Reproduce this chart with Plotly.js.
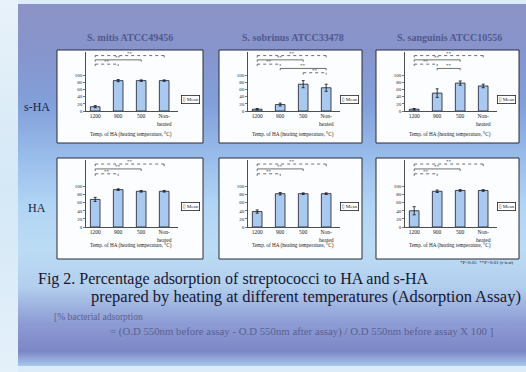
<!DOCTYPE html>
<html>
<head>
<meta charset="utf-8">
<script src="https://cdn.plot.ly/plotly-3.0.1.min.js"></script>
<style>
html,body{margin:0;padding:0;width:526px;height:372px;overflow:hidden;background:#dcecf8;}
#bg{position:absolute;left:18px;top:4px;width:508px;height:362px;
background:linear-gradient(to bottom,#8c93c6 0%,#8794cb 12%,#82a0da 28%,#98bcea 42%,#b0d4f4 55%,#bcdcf4 68%,#b2cfee 78%,#8e9cd4 88%,#7c86c6 96%,#a8c8ec 100%);}
#strip{position:absolute;left:0;top:0;width:18px;height:372px;background:linear-gradient(to bottom,#e8f2fa,#d4e8f6 50%,#e4f0fa);}
#plot{position:absolute;left:0;top:0;width:526px;height:372px;}
</style>
</head>
<body>
<div id="strip"></div>
<div id="bg"></div>
<div id="plot"></div>
<script>
// ---- data ----
const categories = ['1200', '900', '500', 'Non-<br>heated'];
const strains = ['S. mitis ATCC49456', 'S. sobrinus ATCC33478', 'S. sanguinis ATCC10556'];
const rowLabels = ['s-HA', 'HA'];

const sHA_mitis = [12, 85, 85, 85];
const sHA_mitis_err = [3, 3, 2, 2];
const sHA_sobrinus = [5, 18, 75, 65];
const sHA_sobrinus_err = [2, 4, 10, 10];
const sHA_sanguinis = [5, 50, 78, 70];
const sHA_sanguinis_err = [2, 12, 6, 5];

const HA_mitis = [68, 92, 88, 88];
const HA_mitis_err = [5, 2, 2, 2];
const HA_sobrinus = [38, 82, 82, 82];
const HA_sobrinus_err = [4, 3, 2, 2];
const HA_sanguinis = [40, 88, 90, 90];
const HA_sanguinis_err = [10, 3, 2, 2];

const sig_sHA_mitis = [[0, 3, '**'], [0, 2, '**'], [0, 1, '**']];
const sig_sHA_sobrinus = [[0, 3, '**'], [0, 2, '**'], [0, 1, '**'], [1, 3, '**'], [2, 3, '**']];
const sig_sHA_sanguinis = [[0, 3, '**'], [0, 2, '**'], [0, 1, '**'], [1, 2, '**']];
const sig_HA_mitis = [[0, 3, '**'], [0, 2, '**'], [0, 1, '**']];
const sig_HA_sobrinus = [[0, 3, '**'], [0, 2, '**'], [0, 1, '**']];
const sig_HA_sanguinis = [[0, 3, '**'], [0, 2, '**'], [0, 1, '**']];

const yTicks = [0, 20, 40, 60, 80, 100];
const panelCaption = 'Temp. of HA (heating temperature, \u00b0C)';
const legendText = '\u25af Mean';
const footnote = '*P<0.05  **P<0.01 (t-test)';
const figTitle1 = 'Fig 2. Percentage adsorption of streptococci to HA and s-HA';
const figTitle2 = 'prepared by heating at different temperatures (Adsorption Assay)';
const formula1 = '[% bacterial adsorption';
const formula2 = '= (O.D 550nm before assay - O.D 550nm after assay) / O.D 550nm before assay X 100 ]';

const panels = [
  [sHA_mitis, sHA_mitis_err, sig_sHA_mitis],
  [sHA_sobrinus, sHA_sobrinus_err, sig_sHA_sobrinus],
  [sHA_sanguinis, sHA_sanguinis_err, sig_sHA_sanguinis],
  [HA_mitis, HA_mitis_err, sig_HA_mitis],
  [HA_sobrinus, HA_sobrinus_err, sig_HA_sobrinus],
  [HA_sanguinis, HA_sanguinis_err, sig_HA_sanguinis]
];

// ---- layout geometry (px) ----
const W = 526, H = 372;
const fx = p => p / W, fy = p => 1 - p / H;
const colBoxes = [[57, 203], [219, 362], [376, 519]];
const rowBoxes = [[50, 143], [158, 259]];
const rowPlot = [[52, 111], [160, 227]];
const serif = 'Liberation Serif, DejaVu Serif, serif';

const traces = [], shapes = [], annotations = [];
const layout = {
  width: W, height: H, margin: {l: 0, r: 0, t: 0, b: 0},
  paper_bgcolor: 'rgba(0,0,0,0)', plot_bgcolor: 'rgba(0,0,0,0)',
  showlegend: false, font: {family: serif, color: '#111'}
};

panels.forEach((p, i) => {
  const r = Math.floor(i / 3), c = i % 3;
  const n = i + 1, xs = n === 1 ? '' : n;
  const box = colBoxes[c], rb = rowBoxes[r], rp = rowPlot[r];
  shapes.push({type: 'rect', xref: 'paper', yref: 'paper', layer: 'below',
    x0: fx(box[0]), x1: fx(box[1]), y0: fy(rb[1]), y1: fy(rb[0]),
    fillcolor: '#fbfdff', line: {color: '#2a2a3a', width: 1}});
  const xd = [fx(box[0] + 29), fx(box[0] + 29 + 92)];
  layout['xaxis' + xs] = {domain: xd, anchor: 'y' + xs, type: 'category', range: [-0.4, 3.6],
    showline: true, linecolor: '#222', linewidth: 0.8, ticks: '', showgrid: false,
    tickfont: {size: 5.5, family: serif, color: '#222'}, fixedrange: true};
  layout['yaxis' + xs] = {domain: [fy(rp[1]), fy(rp[0])], anchor: 'x' + xs, range: [0, 165],
    tickvals: yTicks, showline: true, linecolor: '#222', linewidth: 0.8, ticks: 'outside',
    ticklen: 2, tickwidth: 0.6, tickcolor: '#222', showgrid: false, zeroline: false,
    tickfont: {size: 5, family: serif, color: '#222'}, fixedrange: true};
  traces.push({type: 'bar', x: categories, y: p[0], xaxis: 'x' + xs, yaxis: 'y' + xs,
    width: 0.42, marker: {color: '#a9caee', line: {color: '#1a1a2a', width: 0.8}},
    error_y: {type: 'data', array: p[1], visible: true, color: '#111', thickness: 0.8, width: 1.5},
    hoverinfo: 'skip'});
  p[2].forEach((s, k) => {
    const lvl = 155 - k * 12;
    const dash = k % 2 === 0 ? 'dot' : 'solid';
    const ln = {color: '#333', width: 0.7, dash: dash};
    shapes.push({type: 'line', xref: 'x' + xs, yref: 'y' + xs, x0: s[0], x1: s[1], y0: lvl, y1: lvl, line: ln});
    shapes.push({type: 'line', xref: 'x' + xs, yref: 'y' + xs, x0: s[0], x1: s[0], y0: lvl, y1: lvl - 5, line: ln});
    shapes.push({type: 'line', xref: 'x' + xs, yref: 'y' + xs, x0: s[1], x1: s[1], y0: lvl, y1: lvl - 5, line: ln});
    annotations.push({xref: 'x' + xs, yref: 'y' + xs, x: (s[0] + s[1]) / 2, y: lvl, text: s[2],
      showarrow: false, xanchor: 'center', yanchor: 'bottom', yshift: -2, font: {size: 5, color: '#222'}});
  });
  annotations.push({xref: 'paper', yref: 'paper', x: fx(box[1] - 3), y: fy(r === 0 ? 95 : 207),
    xanchor: 'right', text: legendText, showarrow: false, bordercolor: '#222', borderwidth: 0.8,
    borderpad: 1, bgcolor: '#fff', font: {size: 5, color: '#222', family: serif}});
  annotations.push({xref: 'paper', yref: 'paper', x: fx(box[0] + 74), y: fy(r === 0 ? 134 : 245),
    xanchor: 'center', text: panelCaption, showarrow: false, font: {size: 5.2, color: '#222', family: serif}});
});

const colCenters = [130, 293, 449];
strains.forEach((s, c) => annotations.push({xref: 'paper', yref: 'paper', x: fx(colCenters[c]), y: fy(30),
  xanchor: 'center', text: '<b>' + s + '</b>', showarrow: false, font: {size: 10, color: '#525a8c', family: serif}}));
annotations.push({xref: 'paper', yref: 'paper', x: fx(37), y: fy(98), xanchor: 'center', text: rowLabels[0], showarrow: false,
  font: {size: 12, color: '#1c2040', family: serif}});
annotations.push({xref: 'paper', yref: 'paper', x: fx(37), y: fy(208), xanchor: 'center', text: rowLabels[1], showarrow: false,
  font: {size: 12, color: '#1c2040', family: serif}});
annotations.push({xref: 'paper', yref: 'paper', x: fx(516), y: fy(267), xanchor: 'right', text: footnote,
  showarrow: false, font: {size: 5, color: '#222', family: serif}});
annotations.push({xref: 'paper', yref: 'paper', x: fx(36), y: fy(290), xanchor: 'left', text: figTitle1,
  showarrow: false, font: {size: 16, color: '#161632', family: serif}});
annotations.push({xref: 'paper', yref: 'paper', x: fx(89), y: fy(308), xanchor: 'left', text: figTitle2,
  showarrow: false, font: {size: 16.5, color: '#161632', family: serif}});
annotations.push({xref: 'paper', yref: 'paper', x: fx(52), y: fy(324), xanchor: 'left', text: formula1,
  showarrow: false, font: {size: 9.5, color: '#5a6290', family: serif}});
annotations.push({xref: 'paper', yref: 'paper', x: fx(108), y: fy(340), xanchor: 'left', text: formula2,
  showarrow: false, font: {size: 10.8, color: '#5a6290', family: serif}});

layout.shapes = shapes;
layout.annotations = annotations;
Plotly.newPlot('plot', traces, layout, {staticPlot: true, displayModeBar: false});
</script>
</body>
</html>
